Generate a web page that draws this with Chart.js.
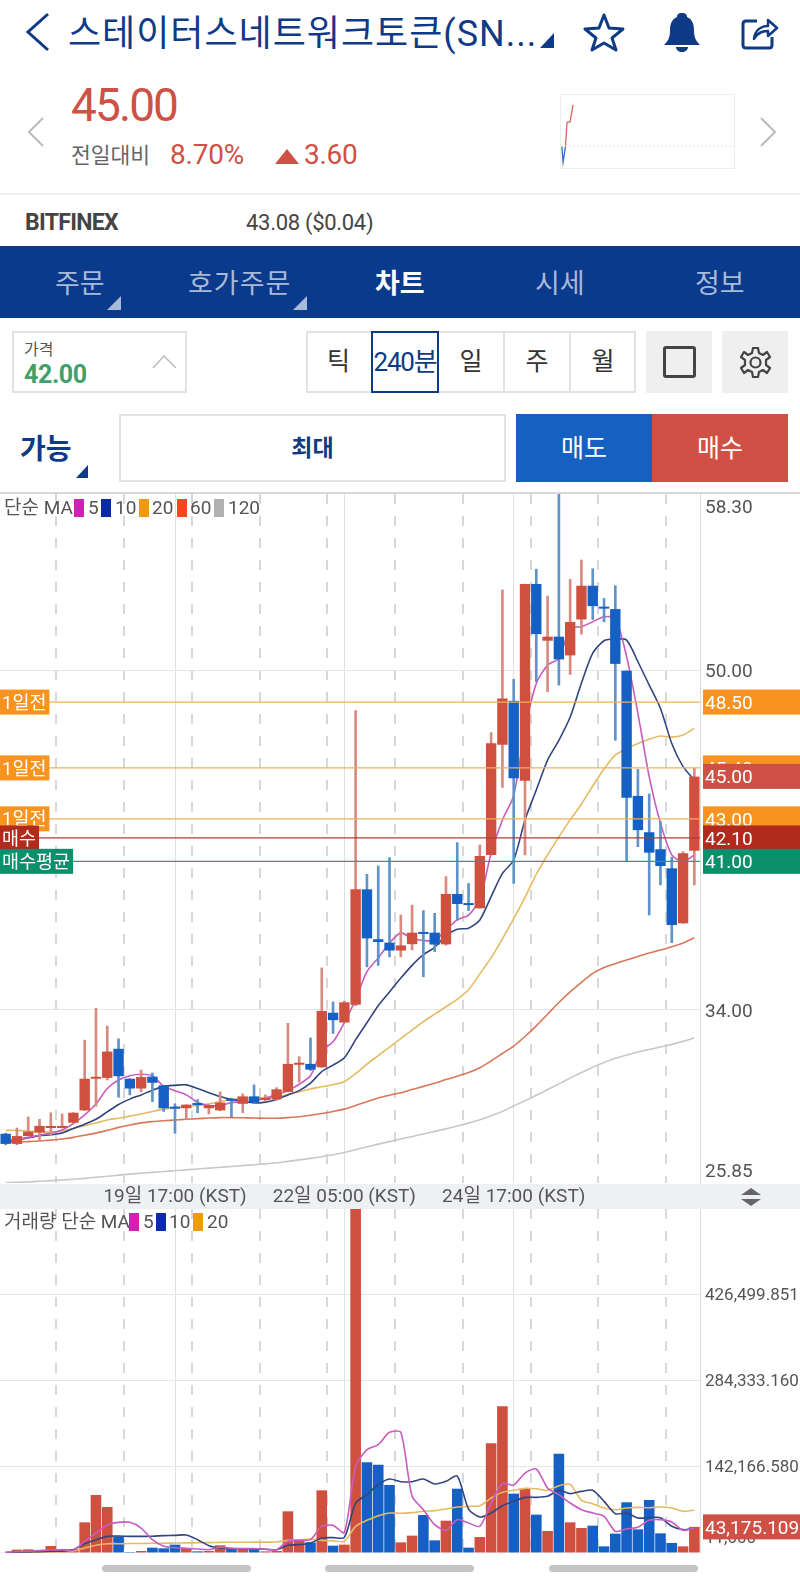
<!DOCTYPE html>
<html lang="ko">
<head>
<meta charset="utf-8">
<title>차트</title>
<script src="https://cdn.jsdelivr.net/npm/chart.js@4/dist/chart.umd.min.js"></script>
<style>
  html, body { margin: 0; padding: 0; background: #fff; }
  body { position: relative; width: 800px; height: 1583px; overflow: hidden; font-family: Roboto, "Noto Sans CJK KR", sans-serif; color: #555; }
  .a { position: absolute; white-space: nowrap; }
  .c { text-align: center; }
  .box { position: absolute; box-sizing: border-box; }
  canvas { position: absolute; left: 0; }
  .sw { position: absolute; width: 10px; height: 18px; }
  .lg { position: absolute; font-size: 19px; line-height: 20px; color: #555; white-space: nowrap; }
  svg { position: absolute; }
</style>
</head>
<body>
  <!-- header -->
  <svg style="left:24px;top:12px" width="28" height="40"><path d="M24 2 L4 20 L24 38" fill="none" stroke="#0f3a85" stroke-width="3"/></svg>
  <div class="a" style="left:68px;top:10px;font-size:36px;line-height:48px;color:#0f3a85;letter-spacing:1px">스테이터스네트워크토큰(SN...</div>
  <svg style="left:540px;top:33px" width="14" height="15"><path d="M14 0 V15 H0 Z" fill="#0f3a85"/></svg>
  <svg style="left:583px;top:12px" width="42" height="40"><path d="M21 3 L26 16 L40 17 L29 26 L33 38 L21 31 L9 38 L13 26 L2 17 L16 16 Z" fill="none" stroke="#0f3a85" stroke-width="3" stroke-linejoin="round"/></svg>
  <svg style="left:663px;top:12px" width="38" height="41"><path d="M19 1 C23 1 24 3 24 5 C29 7 31 12 31 18 C31 26 33 29 37 33 H1 C5 29 7 26 7 18 C7 12 9 7 14 5 C14 3 15 1 19 1 Z M13 35 H25 C25 38 22 40 19 40 C16 40 13 38 13 35 Z" fill="#0f3a85"/></svg>
  <svg style="left:741px;top:15px" width="38" height="36"><path d="M16 6 H5 Q2 6 2 9 V30 Q2 33 5 33 H28 Q31 33 31 30 V22" fill="none" stroke="#0f3a85" stroke-width="3"/><path d="M13 24 C14 15 20 11 27 11 V5 L36 13 L27 21 V16 C21 16 16 18 13 24 Z" fill="none" stroke="#0f3a85" stroke-width="2.5" stroke-linejoin="round"/></svg>

  <!-- price summary -->
  <svg style="left:27px;top:117px" width="18" height="30"><path d="M16 1 L2 15 L16 29" fill="none" stroke="#bbb" stroke-width="2"/></svg>
  <svg style="left:759px;top:117px" width="18" height="30"><path d="M2 1 L16 15 L2 29" fill="none" stroke="#bbb" stroke-width="2"/></svg>
  <div class="a" style="left:71px;top:78px;font-size:46px;line-height:54px;color:#cf5045;letter-spacing:-1.9px">45.00</div>
  <div class="a" style="left:71px;top:141px;font-size:21.5px;line-height:30px;color:#666">전일대비</div>
  <div class="a" style="left:170px;top:138px;font-size:28px;line-height:34px;color:#cf5045;letter-spacing:-0.2px">8.70%</div>
  <svg style="left:275px;top:149px" width="24" height="15"><path d="M12 0 L24 15 H0 Z" fill="#cf5045"/></svg>
  <div class="a" style="left:304px;top:138px;font-size:28px;line-height:34px;color:#cf5045;letter-spacing:-0.3px">3.60</div>
  <div class="box" style="left:560px;top:94px;width:175px;height:75px;border:1px solid #eee"></div>
  <div class="box" style="left:0;top:193px;width:800px;height:2px;background:#eee"></div>
  <div class="a" style="left:25px;top:208px;font-size:23px;line-height:30px;font-weight:700;color:#444;letter-spacing:-0.7px">BITFINEX</div>
  <div class="a" style="left:246px;top:208px;font-size:22px;line-height:30px;color:#444;letter-spacing:-0.3px">43.08 ($0.04)</div>

  <!-- tabs -->
  <div class="box" style="left:0;top:246px;width:800px;height:72px;background:#0a3a8c"></div>
  <div class="a" style="left:55px;top:267px;font-size:27px;line-height:34px;color:#a9b9d8">주문</div>
  <svg style="left:107px;top:296px" width="14" height="14"><path d="M14 0 V14 H0 Z" fill="#a9b9d8"/></svg>
  <div class="a" style="left:188px;top:267px;font-size:27px;line-height:34px;color:#a9b9d8;letter-spacing:1px">호가주문</div>
  <svg style="left:293px;top:296px" width="14" height="14"><path d="M14 0 V14 H0 Z" fill="#a9b9d8"/></svg>
  <div class="a" style="left:375px;top:267px;font-size:27px;line-height:34px;color:#fff;font-weight:700">차트</div>
  <div class="a" style="left:535px;top:267px;font-size:27px;line-height:34px;color:#a9b9d8">시세</div>
  <div class="a" style="left:695px;top:267px;font-size:27px;line-height:34px;color:#a9b9d8">정보</div>

  <!-- order controls -->
  <div class="box" style="left:12px;top:331px;width:175px;height:62px;border:2px solid #e2e2e2"></div>
  <div class="a" style="left:24px;top:339px;font-size:16px;line-height:22px;color:#555">가격</div>
  <div class="a" style="left:24px;top:360px;font-size:25px;line-height:30px;font-weight:700;color:#3fa06b;letter-spacing:-0.4px">42.00</div>
  <svg style="left:152px;top:355px" width="25" height="14"><path d="M1 13 L12 1 L24 13" fill="none" stroke="#bbb" stroke-width="1.5"/></svg>
  <div class="box" style="left:306px;top:331px;width:330px;height:62px;border:2px solid #e2e2e2"></div>
  <div class="box" style="left:503px;top:331px;width:2px;height:62px;background:#e2e2e2"></div>
  <div class="box" style="left:569px;top:331px;width:2px;height:62px;background:#e2e2e2"></div>
  <div class="box" style="left:371px;top:331px;width:68px;height:62px;border:2px solid #0f3a85"></div>
  <div class="a c" style="left:306px;top:345px;width:65px;font-size:25px;line-height:34px;color:#333">틱</div>
  <div class="a c" style="left:371px;top:345px;width:68px;font-size:26px;line-height:34px;color:#0f3a85;letter-spacing:-1.2px">240분</div>
  <div class="a c" style="left:439px;top:345px;width:64px;font-size:25px;line-height:34px;color:#333">일</div>
  <div class="a c" style="left:505px;top:345px;width:64px;font-size:25px;line-height:34px;color:#333">주</div>
  <div class="a c" style="left:571px;top:345px;width:64px;font-size:25px;line-height:34px;color:#333">월</div>
  <div class="box" style="left:646px;top:331px;width:66px;height:62px;background:#efefef"></div>
  <div class="box" style="left:663px;top:346px;width:33px;height:32px;border:3px solid #444;border-radius:3px"></div>
  <div class="box" style="left:722px;top:331px;width:66px;height:62px;background:#efefef"></div>
  <svg style="left:739px;top:346px" width="33" height="33" viewBox="0 0 33 33"><path d="M14 2 H19 L20 7 L24 9 L28 6 L31 11 L27 14 V19 L31 22 L28 27 L24 24 L20 26 L19 31 H14 L13 26 L9 24 L5 27 L2 22 L6 19 V14 L2 11 L5 6 L9 9 L13 7 Z" fill="none" stroke="#444" stroke-width="2.2" stroke-linejoin="round"/><circle cx="16.5" cy="16.5" r="5" fill="none" stroke="#444" stroke-width="2.2"/></svg>
  <div class="a" style="left:20px;top:432px;font-size:28px;line-height:36px;font-weight:700;color:#0f3a85">가능</div>
  <svg style="left:76px;top:465px" width="12" height="13"><path d="M12 0 V13 H0 Z" fill="#0f3a85"/></svg>
  <div class="box" style="left:119px;top:414px;width:387px;height:68px;border:2px solid #e2e2e2"></div>
  <div class="a c" style="left:119px;top:433px;width:387px;font-size:23px;line-height:32px;font-weight:700;color:#0f3a85">최대</div>
  <div class="box" style="left:516px;top:414px;width:136px;height:68px;background:#1560c0"></div>
  <div class="a c" style="left:516px;top:433px;width:136px;font-size:25px;line-height:32px;color:#fff">매도</div>
  <div class="box" style="left:652px;top:414px;width:136px;height:68px;background:#d05045"></div>
  <div class="a c" style="left:652px;top:433px;width:136px;font-size:25px;line-height:32px;color:#fff">매수</div>

  <!-- chart frame -->
  <div class="box" style="left:0;top:492px;width:800px;height:2px;background:#d8d8d8"></div>
  <div class="box" style="left:0;top:1184px;width:800px;height:25px;background:#eef0f4"></div>
  <svg style="left:740px;top:1187px" width="22" height="20"><path d="M11 1 L21 8 H1 Z M1 12 H21 L11 19 Z" fill="#666"/></svg>

  <canvas id="priceChart" width="800" height="715" style="top:494px"></canvas>
  <canvas id="volumeChart" width="800" height="344" style="top:1209px"></canvas>
  <canvas id="sparkChart" width="173" height="73" style="left:561px;top:95px"></canvas>

  <!-- price legend -->
  <div class="lg" style="left:4px;top:498px">단순 MA</div>
  <div class="sw" style="left:74px;top:499px;background:#d41fb4"></div><div class="lg" style="left:88px;top:498px">5</div>
  <div class="sw" style="left:101px;top:499px;background:#0a2aa8"></div><div class="lg" style="left:115px;top:498px">10</div>
  <div class="sw" style="left:139px;top:499px;background:#f09a10"></div><div class="lg" style="left:152px;top:498px">20</div>
  <div class="sw" style="left:177px;top:499px;background:#f4481c"></div><div class="lg" style="left:190px;top:498px">60</div>
  <div class="sw" style="left:214px;top:499px;background:#b0b0b0"></div><div class="lg" style="left:228px;top:498px">120</div>

  <!-- volume legend -->
  <div class="lg" style="left:4px;top:1212px">거래량 단순 MA</div>
  <div class="sw" style="left:129px;top:1213px;background:#d41fb4"></div><div class="lg" style="left:143px;top:1212px">5</div>
  <div class="sw" style="left:156px;top:1213px;background:#0a2aa8"></div><div class="lg" style="left:169px;top:1212px">10</div>
  <div class="sw" style="left:193px;top:1213px;background:#f09a10"></div><div class="lg" style="left:207px;top:1212px">20</div>

  <!-- scroll handles -->
  <div class="box" style="left:102px;top:1565px;width:149px;height:7px;border-radius:4px;background:#c4c4c4"></div>
  <div class="box" style="left:325px;top:1565px;width:149px;height:7px;border-radius:4px;background:#c4c4c4"></div>
  <div class="box" style="left:549px;top:1565px;width:149px;height:7px;border-radius:4px;background:#c4c4c4"></div>

<script>
// one 240 minute candle per label
const timeLabels = [
  '17일 05:00', '17일 09:00', '17일 13:00', '17일 17:00', '17일 21:00', '18일 01:00', '18일 05:00', '18일 09:00',
  '18일 13:00', '18일 17:00', '18일 21:00', '19일 01:00', '19일 05:00', '19일 09:00', '19일 13:00', '19일 17:00',
  '19일 21:00', '20일 01:00', '20일 05:00', '20일 09:00', '20일 13:00', '20일 17:00', '20일 21:00', '21일 01:00',
  '21일 05:00', '21일 09:00', '21일 13:00', '21일 17:00', '21일 21:00', '22일 01:00', '22일 05:00', '22일 09:00',
  '22일 13:00', '22일 17:00', '22일 21:00', '23일 01:00', '23일 05:00', '23일 09:00', '23일 13:00', '23일 17:00',
  '23일 21:00', '24일 01:00', '24일 05:00', '24일 09:00', '24일 13:00', '24일 17:00', '24일 21:00', '25일 01:00',
  '25일 05:00', '25일 09:00', '25일 13:00', '25일 17:00', '25일 21:00', '26일 01:00', '26일 05:00', '26일 09:00',
  '26일 13:00', '26일 17:00', '26일 21:00', '27일 01:00', '27일 05:00', '27일 09:00',
];
const dayLineIndexes = [15, 30, 45];
const dashLineIndexes = [5, 11, 17, 23, 29, 35, 41, 47, 53, 59];

const candleOpen = [
  28.17, 27.69, 28.06, 28.23, 28.44, 28.44, 28.69, 29.27, 30.76, 30.8, 32.17, 30.76, 30.3, 30.86, 30.45, 29.41,
  29.37, 29.56, 29.37, 29.27, 29.76, 29.58, 29.93, 29.76, 29.79, 30.14, 31.42, 31.46, 31.3, 33.87, 33.41, 34.25,
  39.68, 37.33, 37.17, 36.8, 37.1, 37.66, 37.64, 37.09, 39.46, 38.99, 38.79, 41.3, 46.49, 48.56, 44.8, 54.06,
  51.39, 51.58, 50.7, 52.39, 53.98, 52.99, 52.88, 49.98, 44.08, 42.37, 41.57, 40.67, 38.08, 41.5,
];
const candleClose = [
  27.69, 28.06, 28.27, 28.54, 28.5, 28.5, 29.16, 30.76, 30.8, 32.04, 30.88, 30.3, 30.84, 30.57, 29.37, 29.35,
  29.54, 29.52, 29.52, 29.64, 29.72, 29.93, 29.64, 29.85, 30.26, 31.46, 31.46, 31.19, 33.95, 33.52, 34.36, 39.68,
  37.37, 37.2, 36.8, 37.04, 37.64, 37.58, 37.08, 39.46, 38.99, 38.94, 41.25, 46.56, 48.67, 44.91, 54.06, 51.7,
  51.58, 50.51, 52.27, 53.98, 53.02, 52.9, 50.3, 44.0, 42.47, 41.41, 40.78, 38.0, 41.38, 44.99,
];
const candleHigh = [
  28.2, 28.44, 28.96, 28.85, 29.16, 29.1, 29.16, 32.58, 34.08, 33.24, 32.64, 30.76, 31.17, 31.03, 30.45, 29.58,
  29.54, 29.78, 29.55, 30.14, 29.85, 30.05, 30.47, 30.0, 30.34, 33.37, 31.8, 32.68, 35.98, 34.38, 34.42, 48.1,
  40.39, 40.78, 41.17, 38.47, 38.94, 38.68, 38.55, 40.28, 41.88, 39.96, 41.77, 47.06, 53.78, 49.57, 54.06, 54.76,
  53.49, 58.6, 54.28, 55.19, 54.78, 53.38, 53.98, 49.98, 45.33, 44.17, 42.87, 41.2, 41.45, 45.38,
];
const candleLow = [
  27.65, 27.65, 28.06, 27.86, 28.1, 28.44, 28.65, 29.27, 29.47, 30.7, 29.89, 30.0, 30.14, 29.68, 29.22, 28.19,
  28.85, 29.16, 29.1, 29.25, 28.96, 29.16, 29.6, 29.7, 29.75, 30.14, 30.6, 31.15, 31.3, 32.89, 33.41, 34.2,
  36.03, 36.1, 36.5, 36.5, 36.83, 35.56, 36.75, 37.05, 38.24, 38.68, 38.79, 41.3, 44.48, 39.96, 41.3, 49.46,
  48.99, 49.3, 49.8, 51.7, 52.39, 52.28, 46.7, 41.0, 41.69, 38.47, 39.89, 37.17, 38.08, 39.89,
];

const ma5 = [
  27.85, 27.9, 28.0, 28.1, 28.2, 28.35, 28.65, 29.06, 29.57, 30.3, 30.7, 30.9, 30.97, 30.9, 30.4, 30.2,
  30.0, 29.64, 29.5, 29.5, 29.64, 29.68, 29.72, 29.85, 30.0, 30.2, 30.5, 30.9, 32.07, 32.5, 33.4, 34.5,
  35.8, 36.45, 37.15, 37.63, 37.37, 37.27, 37.27, 37.77, 38.24, 38.47, 39.2, 41.38, 42.95, 44.1, 47.2, 49.38,
  50.24, 50.56, 51.97, 52.05, 52.28, 52.52, 52.44, 50.64, 47.97, 44.99, 42.79, 41.3, 40.99, 41.3,
];
const ma10 = [
  27.8, 27.88, 27.98, 28.08, 28.12, 28.2, 28.42, 28.62, 28.85, 29.2, 29.55, 29.8, 30.0, 30.22, 30.4, 30.45,
  30.47, 30.3, 30.1, 29.92, 29.78, 29.7, 29.62, 29.66, 29.78, 30.0, 30.2, 30.55, 31.1, 31.4, 31.75, 32.6,
  33.4, 34.2, 34.85, 35.5, 36.1, 36.6, 36.95, 37.5, 37.8, 37.85, 38.24, 39.34, 40.43, 41.06, 42.95, 44.36,
  45.77, 46.7, 47.8, 49.4, 50.8, 51.39, 51.47, 51.42, 50.4, 49.3, 48.2, 46.55, 45.46, 44.83,
];
const ma20 = [
  28.33, 28.33, 28.3, 28.25, 28.25, 28.3, 28.42, 28.55, 28.68, 28.82, 28.9, 29.0, 29.1, 29.22, 29.33, 29.4,
  29.45, 29.5, 29.58, 29.68, 29.78, 29.82, 29.85, 29.87, 29.9, 30.02, 30.15, 30.28, 30.38, 30.48, 30.62, 31.0,
  31.45, 31.85, 32.25, 32.65, 33.05, 33.45, 33.8, 34.15, 34.5, 34.95, 35.7, 36.45, 37.35, 38.3, 39.3, 40.4,
  41.3, 42.15, 42.95, 43.7, 44.55, 45.35, 46.0, 46.3, 46.55, 46.75, 46.9, 46.85, 46.95, 47.26,
];
const ma60 = [
  27.76, 27.78, 27.8, 27.83, 27.87, 27.92, 28.0, 28.1, 28.2, 28.33, 28.47, 28.58, 28.68, 28.74, 28.78, 28.82,
  28.85, 28.88, 28.91, 28.93, 28.93, 28.92, 28.91, 28.9, 28.9, 28.93, 28.97, 29.04, 29.12, 29.22, 29.33, 29.5,
  29.68, 29.85, 29.98, 30.1, 30.25, 30.4, 30.55, 30.72, 30.88, 31.05, 31.28, 31.6, 31.95, 32.3, 32.75, 33.25,
  33.8, 34.35, 34.85, 35.3, 35.72, 36.0, 36.18, 36.35, 36.52, 36.68, 36.82, 36.98, 37.15, 37.4,
];
const ma120 = [
  25.86, 25.88, 25.9, 25.93, 25.96, 25.99, 26.03, 26.07, 26.12, 26.17, 26.22, 26.27, 26.31, 26.35, 26.39, 26.43,
  26.47, 26.51, 26.55, 26.59, 26.63, 26.67, 26.71, 26.75, 26.8, 26.87, 26.94, 27.01, 27.09, 27.18, 27.29, 27.42,
  27.55, 27.68, 27.8, 27.92, 28.04, 28.16, 28.28, 28.4, 28.53, 28.67, 28.83, 29.02, 29.22, 29.48, 29.72, 29.98,
  30.25, 30.52, 30.79, 31.05, 31.3, 31.52, 31.72, 31.88, 32.02, 32.14, 32.26, 32.38, 32.52, 32.68,
];

const volume = [
  1000, 5500, 6000, 4400, 11500, 6600, 6600, 50700, 95900, 76000, 27500, 1600, 3300, 8800, 7700, 13800,
  8300, 2700, 3300, 12700, 7700, 7700, 8300, 2700, 3300, 68900, 22000, 17600, 103600, 12100, 13800, 650000,
  149900, 146000, 112400, 17600, 28700, 62800, 20900, 53400, 106300, 8800, 26400, 181300, 242400, 98100, 106300, 63400,
  36400, 164200, 50700, 41300, 45200, 11000, 32000, 83800, 39100, 87600, 32500, 16500, 11000, 43175.109,
];
const volMa5 = [
  1200, 2000, 3000, 4000, 5000, 5000, 4400, 19300, 33000, 46800, 50700, 50700, 41300, 22000, 11000, 8800,
  7700, 6600, 5500, 9400, 7700, 7200, 7200, 6100, 5500, 19300, 21000, 22000, 44000, 45700, 34000, 143000,
  170800, 179000, 199500, 199500, 93700, 71600, 46800, 37500, 55100, 49600, 44100, 82600, 114600, 112400, 132200, 138900,
  107400, 96400, 82600, 71600, 66100, 60600, 35800, 39700, 42400, 54000, 55100, 51200, 37500, 41300,
];
const volMa10 = [
  800, 1300, 1800, 2300, 2800, 3100, 5500, 15400, 22000, 27500, 28000, 27500, 27500, 27800, 28700, 29200,
  29700, 22000, 12100, 8300, 7200, 7000, 6800, 6200, 5500, 12700, 13800, 16500, 24800, 25400, 25900, 82600,
  96400, 113000, 122300, 117900, 117900, 122300, 114100, 118500, 127300, 72700, 59500, 66100, 78200, 85400, 92000, 92000,
  93700, 103600, 98100, 101900, 103600, 85400, 65000, 66100, 57900, 58400, 58400, 44100, 38600, 40800,
];
const volMa20 = [
  500, 800, 1100, 1500, 2000, 2600, 3300, 8300, 12700, 15400, 15400, 15600, 15800, 16000, 16000, 16500,
  16700, 16900, 17200, 17600, 17700, 17800, 17900, 18000, 18200, 20900, 22000, 23100, 20900, 20000, 19300, 44100,
  54000, 61700, 66100, 65600, 66700, 68900, 70000, 72700, 76000, 77100, 78200, 90900, 100300, 103600, 106900, 106300,
  103600, 111300, 113500, 87100, 81500, 74400, 71600, 74400, 75500, 74900, 76000, 74400, 68900, 71100,
];

const priceTicks = [58.3, 50, 34, 25.85];
const priceTickLabels = ['58.30', '50.00', '34.00', '25.85'];
const volumeTicks = [426499.851, 284333.16, 142166.58, 0];
const volumeTickLabels = ['426,499.851', '284,333.160', '142,166.580', '11,000'];

const levelValues = [48.5, 45.4, 45, 43, 42.1, 41];
const levelTexts = ['48.50', '45.40', '45.00', '43.00', '42.10', '41.00'];
const levelLeftTexts = ['1일전', '1일전', '', '1일전', '매수', '매수평균'];
const levelColors = ['#f7931e', '#f7931e', '#cf5045', '#f7931e', '#b12a1c', '#0c8f6b'];
const levelLineColors = ['#ebb25f', '#ebb25f', '', '#ebb25f', '#a8403a', '#2f9a80'];

const sparkTimes = [0.5, 1.2, 2.6];
const sparkDown = [41.4, 40.0, 41.4];
const sparkUpTimes = [2.6, 3.5, 5.2, 7];
const sparkUp = [41.4, 43.5, 43.5, 45.0];
const sparkBase = 41.4;

const RED = '#d05040';
const BLUE = '#1560c4';
const FONT = 'Roboto, "Noto Sans CJK KR", sans-serif';

const isUp = candleOpen.map((open, i) => candleClose[i] >= open);

function fixAxisWidth(scale) {
  scale.width = 100;
  scale.paddingTop = 0;
  scale.paddingBottom = 0;
}

// category axis that only carries dashed guide lines on the candle boundaries
function dashAxis() {
  return {
    type: 'category',
    offset: true,
    position: 'bottom',
    grid: {
      offset: true,
      lineWidth: 2,
      drawTicks: false,
      color: (ctx) => (dashLineIndexes.includes(ctx.index) ? '#d8d8d8' : 'transparent'),
    },
    border: { display: false, dash: [10, 12] },
    ticks: { display: false },
    afterFit: (scale) => { scale.height = 0; },
  };
}

function maLine(label, data, color, order) {
  return {
    type: 'line',
    label,
    data,
    borderColor: color,
    borderWidth: 1.6,
    pointRadius: 0,
    tension: 0.25,
    order,
  };
}

function tagPlugin(values, texts, leftTexts, colors, lineColors) {
  return {
    id: 'levelTags',
    afterDraw(chart) {
      const { ctx, chartArea, scales } = chart;
      ctx.save();
      ctx.textBaseline = 'middle';
      values.forEach((value, i) => {
        const y = scales.y.getPixelForValue(value);
        if (lineColors[i]) {
          ctx.strokeStyle = lineColors[i];
          ctx.lineWidth = 1.2;
          ctx.beginPath();
          ctx.moveTo(chartArea.left, y);
          ctx.lineTo(chartArea.right, y);
          ctx.stroke();
        }
        ctx.font = `19px ${FONT}`;
        ctx.fillStyle = colors[i];
        ctx.fillRect(chartArea.right + 3, y - 12.5, 97, 25);
        ctx.fillStyle = '#fff';
        ctx.fillText(texts[i], chartArea.right + 5, y + 2);
        if (leftTexts[i]) {
          ctx.font = `18.5px ${FONT}`;
          const w = ctx.measureText(leftTexts[i]).width + 5;
          ctx.fillStyle = colors[i];
          ctx.fillRect(0, y - 12.5, w, 25);
          ctx.fillStyle = '#fff';
          ctx.fillText(leftTexts[i], 2, y + 2);
        }
      });
      ctx.restore();
    },
  };
}

new Chart(document.getElementById('priceChart'), {
  type: 'bar',
  data: {
    labels: timeLabels,
    datasets: [
      {
        label: 'body',
        data: candleOpen.map((open, i) => [open, candleClose[i]]),
        backgroundColor: isUp.map((up) => (up ? RED : BLUE)),
        barPercentage: 0.92,
        categoryPercentage: 1,
        minBarLength: 2,
        grouped: false,
        order: 1,
      },
      {
        label: 'wick',
        data: candleLow.map((low, i) => [low, candleHigh[i]]),
        backgroundColor: isUp.map((up) => (up ? '#d88a7f' : '#5f93c9')),
        barThickness: 2,
        grouped: false,
        order: 2,
      },
      maLine('MA 5', ma5, '#c95cc0', 5),
      maLine('MA 10', ma10, '#33457f', 5),
      maLine('MA 20', ma20, '#e4bb62', 5),
      maLine('MA 60', ma60, '#d9775a', 5),
      maLine('MA 120', ma120, '#c8c8c8', 5),
    ],
  },
  options: {
    responsive: false,
    animation: false,
    layout: { padding: 0 },
    plugins: { legend: { display: false }, tooltip: { enabled: false } },
    scales: {
      x: {
        type: 'category',
        offset: true,
        grid: {
          offset: false,
          drawTicks: false,
          color: (ctx) => (dayLineIndexes.includes(ctx.index) ? '#e0e0e0' : 'transparent'),
        },
        border: { display: false },
        ticks: {
          autoSkip: false,
          maxRotation: 0,
          padding: 3,
          color: '#555',
          font: { size: 19, family: FONT },
          callback: (value, index) => (dayLineIndexes.includes(index) ? `${timeLabels[index]} (KST)` : ''),
        },
        afterFit: (scale) => { scale.height = 26; },
      },
      xDash: dashAxis(),
      y: {
        position: 'right',
        min: 25.85,
        max: 58.3,
        afterBuildTicks: (scale) => { scale.ticks = priceTicks.map((value) => ({ value })); },
        afterFit: fixAxisWidth,
        grid: {
          drawTicks: false,
          color: (ctx) => (ctx.index === 1 || ctx.index === 2 ? '#e6e6e6' : 'transparent'),
        },
        border: { color: '#dcdcdc' },
        ticks: {
          padding: 5,
          labelOffset: 2,
          color: '#555',
          font: { size: 19, family: FONT, lineHeight: 1.34 },
          // the end labels sit inside the plot: an empty line pushes them off the edge
          callback: (value, index) => {
            if (index === 0) return ['', priceTickLabels[index]];
            if (index === priceTicks.length - 1) return [priceTickLabels[index], ''];
            return priceTickLabels[index];
          },
        },
      },
    },
  },
  plugins: [tagPlugin(levelValues, levelTexts, levelLeftTexts, levelColors, levelLineColors)],
});

new Chart(document.getElementById('volumeChart'), {
  type: 'bar',
  data: {
    labels: timeLabels,
    datasets: [
      {
        label: 'volume',
        data: volume,
        backgroundColor: isUp.map((up) => (up ? RED : BLUE)),
        barPercentage: 0.94,
        categoryPercentage: 1,
        order: 1,
      },
      maLine('MA 5', volMa5, '#c95cc0', 0),
      maLine('MA 10', volMa10, '#33457f', 0),
      maLine('MA 20', volMa20, '#e4bb62', 0),
    ],
  },
  options: {
    responsive: false,
    animation: false,
    layout: { padding: 0 },
    plugins: { legend: { display: false }, tooltip: { enabled: false } },
    scales: {
      x: {
        type: 'category',
        offset: true,
        grid: {
          offset: false,
          drawTicks: false,
          color: (ctx) => (dayLineIndexes.includes(ctx.index) ? '#e0e0e0' : 'transparent'),
        },
        border: { display: false },
        ticks: { display: false },
        afterFit: (scale) => { scale.height = 0; },
      },
      xDash: dashAxis(),
      y: {
        position: 'right',
        min: 0,
        max: 568666.3,
        afterBuildTicks: (scale) => { scale.ticks = volumeTicks.map((value) => ({ value })); },
        afterFit: fixAxisWidth,
        grid: { drawTicks: false, color: '#e6e6e6' },
        border: { color: '#dcdcdc' },
        ticks: {
          padding: 5,
          labelOffset: 1,
          color: '#555',
          font: { size: 17, family: FONT, lineHeight: 1.8 },
          callback: (value, index) => (index === volumeTicks.length - 1 ? [volumeTickLabels[index], ''] : volumeTickLabels[index]),
        },
      },
    },
  },
  plugins: [tagPlugin([43175.109], ['43,175.109'], [''], ['#cf5045'], [''])],
});

new Chart(document.getElementById('sparkChart'), {
  type: 'line',
  data: {
    datasets: [
      {
        data: [{ x: 0, y: sparkBase }, { x: 100, y: sparkBase }],
        borderColor: '#e4e4e4',
        borderWidth: 1,
        borderDash: [2, 2],
        pointRadius: 0,
      },
      {
        data: sparkTimes.map((x, i) => ({ x, y: sparkDown[i] })),
        borderColor: '#2f6fbf',
        borderWidth: 1.3,
        pointRadius: 0,
      },
      {
        data: sparkUpTimes.map((x, i) => ({ x, y: sparkUp[i] })),
        borderColor: '#d8695e',
        borderWidth: 1.3,
        pointRadius: 0,
      },
    ],
  },
  options: {
    responsive: false,
    animation: false,
    layout: { padding: 0 },
    plugins: { legend: { display: false }, tooltip: { enabled: false } },
    scales: {
      x: { type: 'linear', display: false, min: 0, max: 100 },
      y: { display: false, min: 39.5, max: 45.86 },
    },
  },
});
</script>
</body>
</html>
